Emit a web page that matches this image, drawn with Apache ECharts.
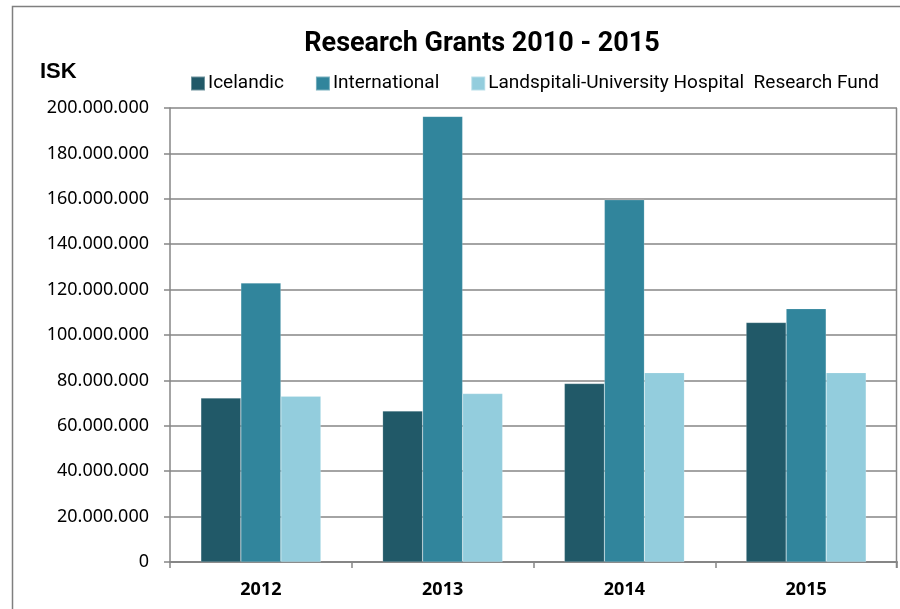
<!DOCTYPE html>
<html>
<head>
<meta charset="utf-8">
<script src="https://cdn.jsdelivr.net/npm/echarts@6/dist/echarts.min.js"></script>
<style>
  html, body { margin: 0; padding: 0; background: #fff; }
  #chart { width: 900px; height: 609px; }
</style>
</head>
<body>
<div id="chart"></div>
<script>
const years = ['2012', '2013', '2014', '2015']
const icelandic = [72200000, 66500000, 78600000, 105500000]
const international = [122900000, 196300000, 159600000, 111600000]
const landspitali = [73000000, 74200000, 83400000, 83400000]
const seriesNames = ['Icelandic', 'International', 'Landspitali-University Hospital  Research Fund']
const seriesColors = ['#215968', '#31859C', '#93CDDD']

const chart = echarts.init(document.getElementById('chart'))

// thousands separated by dots, as in the original
const fmt = (v) => String(v).replace(/\B(?=(\d{3})+(?!\d))/g, '.')

const makeBar = (name, data, color) => ({
  name,
  type: 'bar',
  data,
  barWidth: 40,
  barGap: '0%',
  itemStyle: { color, borderColor: 'rgba(255,255,255,0.35)', borderWidth: 0.5 }
})

chart.setOption({
  animation: false,
  title: {
    text: 'Research Grants 2010 - 2015',
    left: 477,
    top: 26,
    textAlign: 'center',
    textStyle: { fontFamily: 'Roboto', fontWeight: 'bold', fontSize: 27, color: '#000' }
  },
  graphic: [
    {
      type: 'rect',
      shape: { x: 12.5, y: 6.5, width: 900, height: 620 },
      style: { fill: 'none', stroke: '#7f7f7f', lineWidth: 1.5 },
      z: -1
    },
    {
      type: 'text',
      left: 40,
      top: 61,
      style: { text: 'ISK', fontFamily: 'Liberation Sans', fontWeight: 'bold', fontSize: 22, fill: '#000' }
    },
    {
      // right border of the plot area
      type: 'line',
      shape: { x1: 896.5, y1: 108, x2: 896.5, y2: 568 },
      style: { stroke: '#868686', lineWidth: 1.5 }
    }
  ],
  legend: {
    data: seriesNames,
    left: 190,
    top: 74,
    padding: 0,
    itemWidth: 14,
    itemHeight: 14,
    itemGap: 31,
    icon: 'rect',
    textStyle: { fontFamily: 'Roboto', fontSize: 19, color: '#000', padding: [0, 0, 0, -2] }
  },
  grid: { left: 170, right: 3, top: 108, bottom: 47 },
  xAxis: {
    type: 'category',
    data: years,
    axisLine: { lineStyle: { color: '#868686', width: 2 } },
    axisTick: { show: true, length: 6, lineStyle: { color: '#868686', width: 1.5 } },
    axisLabel: { margin: 19, fontFamily: 'Noto Sans', fontWeight: 'bold', fontSize: 18, color: '#000' }
  },
  yAxis: {
    type: 'value',
    min: 0,
    max: 200000000,
    interval: 20000000,
    axisLine: { show: true, lineStyle: { color: '#868686', width: 1.5 } },
    axisTick: { show: true, length: 6, lineStyle: { color: '#868686', width: 1.5 } },
    splitLine: { lineStyle: { color: '#868686', width: 1.5 } },
    axisLabel: { margin: 21, formatter: fmt, fontFamily: 'Noto Sans', fontSize: 18, color: '#000' }
  },
  series: [
    makeBar(seriesNames[0], icelandic, seriesColors[0]),
    makeBar(seriesNames[1], international, seriesColors[1]),
    makeBar(seriesNames[2], landspitali, seriesColors[2])
  ]
})
</script>
</body>
</html>
